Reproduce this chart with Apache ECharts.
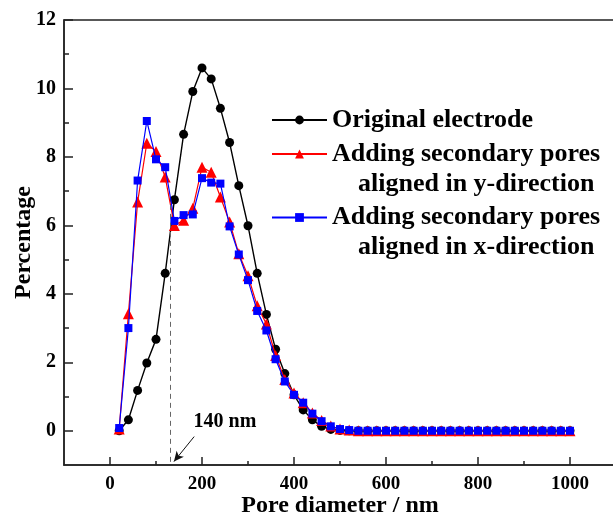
<!DOCTYPE html>
<html><head><meta charset="utf-8">
<script src="https://cdn.jsdelivr.net/npm/echarts@6/dist/echarts.min.js"></script>
<style>html,body{margin:0;padding:0;background:#fff}#c{width:613px;height:517px}</style>
</head><body><div id="c"></div>
<script>
// ---- data ----
const poreDiameter = [20,40,60,80,100,120,140,160,180,200,220,240,260,280,300,320,340,360,380,400,
  420,440,460,480,500,520,540,560,580,600,620,640,660,680,700,720,740,760,780,800,
  820,840,860,880,900,920,940,960,980,1000];
const originalElectrode = [0,0.32,1.18,1.98,2.67,4.6,6.75,8.66,9.91,10.6,10.28,9.42,8.42,7.16,5.99,4.6,3.4,2.38,1.67,1.05,
  0.61,0.32,0.13,0.04,0.01,0,0,0,0,0,0,0,0,0,0,0,0,0,0,0,
  0,0,0,0,0,0,0,0,0,0];
const yAligned = [0.05,3.42,6.68,8.4,8.16,7.41,6.0,6.15,6.5,7.7,7.55,6.83,6.1,5.17,4.53,3.65,3.12,2.2,1.5,1.1,
  0.82,0.52,0.3,0.14,0.05,0.02,0,0,0,0,0,0,0,0,0,0,0,0,0,0,
  0,0,0,0,0,0,0,0,0,0];
const xAligned = [0.08,3.0,7.31,9.05,7.93,7.7,6.13,6.3,6.32,7.38,7.25,7.22,5.97,5.15,4.4,3.5,2.93,2.09,1.44,1.05,
  0.82,0.5,0.28,0.13,0.05,0.02,0,0,0,0,0,0,0,0,0,0,0,0,0,0,
  0,0,0,0,0,0,0,0,0,0];
const seriesNames = ['Original electrode',
  'Adding secondary pores aligned in y-direction',
  'Adding secondary pores aligned in x-direction'];
const legendLines = [['Original electrode'],
  ['Adding secondary pores', 'aligned in y-direction'],
  ['Adding secondary pores', 'aligned in x-direction']];
const xMajorTicks = [0,200,400,600,800,1000];
const xMinorTicks = [100,300,500,700,900];
const yMajorTicks = [0,2,4,6,8,10,12];
const yMinorTicks = [1,3,5,7,9,11];
const xTitle = 'Pore diameter / nm';
const yTitle = 'Percentage';
const annotationLabel = '140 nm';
const annotationX = 132;

// ---- chart ----
const serif = 'Liberation Serif, Times New Roman, serif';
const axisColor = '#222';
const chart = echarts.init(document.getElementById('c'));
const pairs = arr => poreDiameter.map((x, i) => [x, arr[i]]);

const legendBase = {
  orient: 'vertical', left: 271, padding: 0, itemWidth: 55, itemHeight: 11, itemGap: 0,
  selectedMode: false,
  formatter: name => {
    const lines = legendLines[seriesNames.indexOf(name)];
    return lines.length === 1 ? lines[0] : ' \n' + lines[0] + '\n    ' + lines[1];
  },
  textStyle: {fontFamily: serif, fontWeight: 'bold', fontSize: 26, color: '#000', lineHeight: 30}
};

const option = {
  animation: false,
  backgroundColor: '#fff',
  grid: {left: 64, top: 20, width: 552, height: 445, show: true, borderColor: axisColor, borderWidth: 1.5,
    backgroundColor: 'transparent', containLabel: false, outerBoundsMode: 'none'},
  legend: [
    Object.assign({}, legendBase, {top: 105, data: [seriesNames[0]]}),
    Object.assign({}, legendBase, {top: 109, data: [seriesNames[1]]}),
    Object.assign({}, legendBase, {top: 172.5, data: [seriesNames[2]]})
  ],
  xAxis: [{
    type: 'value', min: -100, max: 1100,
    name: xTitle, nameLocation: 'middle', nameGap: 29, nameMoveOverlap: false,
    nameTextStyle: {fontFamily: serif, fontWeight: 'bold', fontSize: 24, color: '#000'},
    axisLine: {onZero: false, lineStyle: {color: axisColor, width: 1.5}},
    axisTick: {inside: true, length: 8, customValues: xMajorTicks, lineStyle: {color: axisColor, width: 1.5}},
    axisLabel: {customValues: xMajorTicks, formatter: v => String(v), margin: 10,
      fontFamily: serif, fontWeight: 'bold', fontSize: 19, color: '#000'},
    splitLine: {show: false}
  }, {
    type: 'value', min: -100, max: 1100, position: 'bottom',
    axisLine: {show: false, onZero: false},
    axisTick: {inside: true, length: 4, customValues: xMinorTicks, lineStyle: {color: axisColor, width: 1.5}},
    axisLabel: {show: false, customValues: xMinorTicks},
    splitLine: {show: false}
  }],
  yAxis: [{
    type: 'value', min: -1, max: 12,
    name: yTitle, nameLocation: 'middle', nameGap: 28, nameMoveOverlap: false,
    nameTextStyle: {fontFamily: serif, fontWeight: 'bold', fontSize: 24, color: '#000'},
    axisLine: {show: true, onZero: false, lineStyle: {color: axisColor, width: 1.5}},
    axisTick: {show: true, inside: true, length: 9, customValues: yMajorTicks, lineStyle: {color: axisColor, width: 1.5}},
    axisLabel: {customValues: yMajorTicks, formatter: v => String(v), margin: 8,
      fontFamily: serif, fontWeight: 'bold', fontSize: 20, color: '#000'},
    splitLine: {show: false}
  }, {
    type: 'value', min: -1, max: 12, position: 'left',
    axisLine: {show: false, onZero: false},
    axisTick: {show: true, inside: true, length: 5, customValues: yMinorTicks, lineStyle: {color: axisColor, width: 1.5}},
    axisLabel: {show: false, customValues: yMinorTicks},
    splitLine: {show: false}
  }],
  series: [{
    name: seriesNames[0], type: 'line', data: pairs(originalElectrode),
    symbol: 'circle', symbolSize: 9, color: '#000',
    lineStyle: {color: '#000', width: 1.4}, itemStyle: {color: '#000'},
    z: 2,
    markLine: {
      silent: true, animation: false,
      label: {show: false},
      data: [
        [{coord: [annotationX, 6.6], symbol: 'none', lineStyle: {type: [5, 4], color: '#666', width: 1}},
         {coord: [annotationX, -1], symbol: 'none'}],
        [{coord: [183, -0.17], symbol: 'none', lineStyle: {type: 'solid', color: '#111', width: 1}},
         {coord: [139, -0.9], symbol: 'arrow', symbolSize: [7, 10]}]
      ]
    },
    markPoint: {
      silent: true, animation: false,
      data: [{coord: [250, 0.25], symbol: 'circle', symbolSize: 0,
        label: {show: true, position: 'inside', formatter: annotationLabel,
          fontFamily: serif, fontWeight: 'bold', fontSize: 20, color: '#000'}}]
    }
  }, {
    name: seriesNames[1], type: 'line', data: pairs(yAligned),
    symbol: 'triangle', symbolSize: 11, color: '#ff0000',
    lineStyle: {color: '#ff0000', width: 1.2}, itemStyle: {color: '#ff0000'},
    z: 3
  }, {
    name: seriesNames[2], type: 'line', data: pairs(xAligned),
    symbol: 'rect', symbolSize: 8, color: '#0000ff',
    lineStyle: {color: '#0000ff', width: 1.2}, itemStyle: {color: '#0000ff'},
    z: 4
  }]
};
chart.setOption(option);
</script></body></html>
